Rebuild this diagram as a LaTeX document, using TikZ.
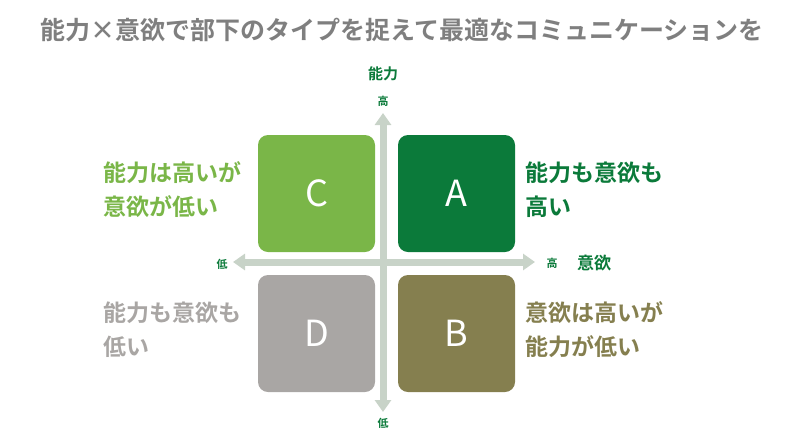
\documentclass[tikz,border=0pt]{standalone}
\usepackage{fontspec}
\setmainfont{Noto Sans CJK JP}
\newfontfamily\jpb{Noto Sans CJK JP}[BoldFont={Noto Sans CJK JP Bold}]
\begin{document}
\begin{tikzpicture}[x=1pt,y=-1pt,
  quad/.style={rounded corners=10pt,minimum width=117pt,minimum height=117pt,inner sep=0pt,font=\fontsize{36}{36}\selectfont,text=white},
  ax/.style={line width=7pt,draw=axis,-{Triangle[length=12pt,width=16pt]}},
  lab/.style={font=\jpb\bfseries\fontsize{23}{34}\selectfont,align=left,anchor=west},
  small/.style={font=\jpb\bfseries\fontsize{11}{11}\selectfont}]
\usetikzlibrary{arrows.meta}
\definecolor{axis}{HTML}{C8D3C8}
\definecolor{cA}{HTML}{0B7A3A}
\definecolor{cC}{HTML}{7AB648}
\definecolor{cD}{HTML}{A9A6A4}
\definecolor{cB}{HTML}{857F4F}
\definecolor{tg}{HTML}{7F7F7F}
\useasboundingbox (0,0) rectangle (800,440);
\node[font=\jpb\bfseries\fontsize{25}{25}\selectfont,text=tg] (title) at (402,30) {能力×意欲で部下のタイプを捉えて最適なコミュニケーションを};
\coordinate (vb) at (383,412); \coordinate (vt) at (383,113);
\coordinate (hl) at (233,262); \coordinate (hr) at (535,262);
\coordinate (o) at (383,262);
\draw[ax] (o) -- (vt); \draw[ax] (o) -- (vb);
\draw[ax] (o) -- (hl); \draw[ax] (o) -- (hr);
\node[quad,fill=cC] (C) at (316.5,193.5) {C};
\node[quad,fill=cA] (A) at (456.5,193.5) {A};
\node[quad,fill=cD] (D) at (316.5,333.5) {D};
\node[quad,fill=cB] (B) at (456.5,333.5) {B};
\node[small,text=cA,font=\jpb\bfseries\fontsize{15}{15}\selectfont] (nl) at (383,74) {能力};
\node[small,text=cA] (nh) at (383,101) {高};
\node[small,text=cA] (vl) at (383,423) {低};
\node[small,text=cA] (hlo) at (222,264) {低};
\node[small,text=cA] (hhi) at (552,263) {高};
\node[text=cA,font=\jpb\bfseries\fontsize{17}{17}\selectfont] (iy) at (594,263) {意欲};
\node[lab,text=cC] (tC) at (100,190) {能力は高いが\\意欲が低い};
\node[lab,text=cA] (tA) at (522,190) {能力も意欲も\\高い};
\node[lab,text=cD] (tD) at (100,330) {能力も意欲も\\低い};
\node[lab,text=cB] (tB) at (522,330) {意欲は高いが\\能力が低い};
\end{tikzpicture}
\end{document}
